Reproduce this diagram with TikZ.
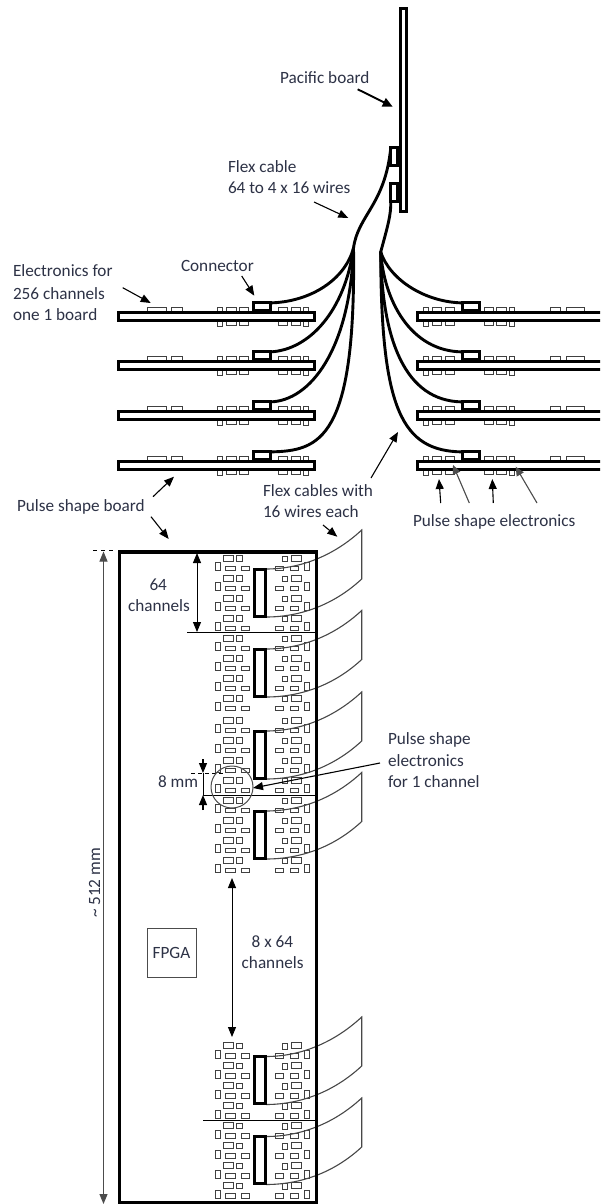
\documentclass[tikz,border=0pt]{standalone}
\usepackage{fontspec}
\setmainfont{Carlito}
\usetikzlibrary{arrows.meta,calc}
\definecolor{txt}{RGB}{45,50,70}
\tikzset{
 x=1pt,y=-1pt,
 lbl/.style={inner sep=0,outer sep=0,anchor=base west,text=txt,font=\fontsize{17.2}{17.2}\selectfont},
 chip/.style={draw=black!75,line width=0.9pt,fill=white},
 cell/.style={draw=black!75,line width=0.9pt,fill=white},
 pcb/.style={draw=black,line width=3pt,fill=white,minimum width=195.7pt,minimum height=7.7pt,inner sep=0,outer sep=0},
 plug/.style={draw=black,line width=3pt,fill=white,minimum width=17pt,minimum height=7.2pt,inner sep=0,outer sep=0},
 vplug/.style={draw=black,line width=3pt,fill=white,minimum width=10.4pt,minimum height=46.8pt,inner sep=0,outer sep=0},
 pplug/.style={draw=black,line width=3pt,fill=white,minimum width=7pt,minimum height=18.2pt,inner sep=0,outer sep=0},
 cable/.style={draw=black,line width=2.9pt,line cap=round},
 flap/.style={draw=black!72,line width=1.1pt},
 note/.style={draw=black,line width=1.1pt,-{Triangle[length=10pt,width=8pt]}},
 notet/.style={draw=black,line width=1.9pt,-{Triangle[length=10pt,width=9pt]}},
 notes/.style={draw=black!70,line width=1.1pt,-{Triangle[length=9pt,width=8pt]}},
 dbl/.style={draw=black,line width=1pt,{Triangle[length=10pt,width=8pt]}-{Triangle[length=10pt,width=8pt]}},
 rule/.style={draw=black,line width=0.9pt},
}
% annotation arrow between two named coordinates
\newcommand{\notearrow}[6][note]{%
 \coordinate (#2a) at (#3,#4); \coordinate (#2b) at (#5,#6);
 \draw[#1] (#2a) -- (#2b);}
\newcommand{\leftchips}[1]{%
 \begin{scope}[yshift=-#1pt]
 \foreach \a/\b in {147.3/166,171.7/182.3,217.3/222.7,226.7/236,239.3/248,278/287.3,291/300.3,303.7/308.7}
   \draw[chip] (\a,307.7) rectangle (\b,312);
 \foreach \a/\b in {226.7/236,239.3/248,278/287.3,291/300.3}
   \draw[chip] (\a,320) rectangle (\b,325);
 \foreach \a/\b in {217.3/222.7,303.7/308.7}
   \draw[chip] (\a,320) rectangle (\b,326);
 \end{scope}}
\newcommand{\rightchips}[1]{%
 \begin{scope}[yshift=-#1pt]
 \foreach \a/\b in {423.3/428.3,432.3/441.7,445/454.3,484.3/493.3,496.7/506,509.3/514.3,550/560.7,566.7/584}
   \draw[chip] (\a,307.7) rectangle (\b,312);
 \foreach \a/\b in {432.3/441.7,445/454.3,484.3/493.3,496.7/506}
   \draw[chip] (\a,320) rectangle (\b,325);
 \foreach \a/\b in {423.3/428.3,509.3/514.3}
   \draw[chip] (\a,320) rectangle (\b,326);
 \end{scope}}
\newcommand{\cellrow}[1]{%
 \begin{scope}[yshift=-#1pt]
 \draw[cell] (223.7,555.3) rectangle (233.2,561.3);
 \draw[cell] (236.4,555.6) rectangle (242.4,561.3);
 \draw[cell] (215,562.7) rectangle (220.2,570.8);
 \draw[cell] (225.7,566.2) rectangle (235,570.8);
 \draw[cell] (241.7,566.2) rectangle (249.8,570.8);
 \draw[cell] (282.5,556.2) rectangle (287.5,561.6);
 \draw[cell] (291.2,555.3) rectangle (301.5,561.3);
 \draw[cell] (304.2,562.7) rectangle (309.5,570.8);
 \draw[cell] (275.7,566.2) rectangle (283.5,570.8);
 \draw[cell] (290.2,566.2) rectangle (298.5,570.8);
 \end{scope}}
% module #1 = name, #2 = offset of the module, #3 = offset of the flap
\newcommand{\module}[3]{%
 \foreach \r in {0,20,40,60} {\pgfmathsetmacro{\rr}{#2+\r}\cellrow{\rr}}
 \coordinate (#1t) at (361.7,{530+#3});
 \coordinate (#1u) at (361.7,{579+#3});
 \coordinate (#1p) at (266,{569+#2});
 \coordinate (#1q) at (266,{617+#2});
 \draw[flap] (#1p) .. controls ($(#1p)+(34,0)$) and ($(#1t)+(-28,26)$) .. (#1t)
   -- (#1u) .. controls ($(#1u)+(-28,26)$) and ($(#1q)+(34,0)$) .. (#1q);
 \node[vplug] (#1) at (260,{592.6+#2}) {};}
\begin{document}
\begin{tikzpicture}
\useasboundingbox (0,0) rectangle (600,1204);
\fill[white] (0,0) rectangle (600,1204);

% Pacific board and its connectors
\node[draw=black,line width=3pt,fill=white,minimum width=6pt,minimum height=203pt,inner sep=0,outer sep=0] (pac) at (403.8,110) {};
\node[pplug] (pu) at (394.3,156.7) {};
\node[pplug] (pd) at (394.3,192.2) {};
\coordinate (jl) at (353.5,248);
\coordinate (jr) at (380.7,252);
\draw[cable] (jl) .. controls (358,215) and (385,205) .. (pu.north west);
\draw[cable] (jr) .. controls (388,225) and (391,215) .. (pd.south west);

% side-view boards
\foreach \o in {0,49,99,149} {\leftchips{\o}\rightchips{\o}}
\node[pcb] (L1) at (216.7,316.3) {};
\node[pcb] (L2) at (216.7,365.3) {};
\node[pcb] (L3) at (216.7,415.3) {};
\node[pcb] (L4) at (216.7,465.3) {};
\begin{scope}
\clip (0,0) rectangle (600,1204);
\foreach \n/\y in {R1/316.3,R2/365.3,R3/415.3,R4/465.3}
  \node[pcb,minimum width=210pt,anchor=west] (\n) at (417.5,\y) {};
\end{scope}
\foreach \n/\y in {a1/306.5,a2/355.5,a3/405.5,a4/455.5} {
  \node[plug] (l\n) at (261.7,\y) {};
  \node[plug] (r\n) at (470.5,\y) {};
}
\draw[cable] (jl) .. controls (345,280) and (310,302) .. (la1.north east);
\draw[cable] (jl) .. controls (345,310) and (310,350) .. (la2.north east);
\draw[cable] (jl) .. controls (350,350) and (310,401) .. (la3.north east);
\draw[cable] (jl) .. controls (356,440) and (320,451) .. (la4.north east);
\draw[cable] (jr) .. controls (390,280) and (425,302) .. (ra1.north west);
\draw[cable] (jr) .. controls (384,300) and (410,351) .. (ra2.north west);
\draw[cable] (jr) .. controls (382,340) and (405,401) .. (ra3.north west);
\draw[cable] (jr) .. controls (381,410) and (402,451) .. (ra4.north west);

% main board
\module{m1}{0}{0}
\module{m2}{80}{80.5}
\module{m3}{162}{162}
\module{m4}{242}{242.5}
\module{m5}{487.5}{487}
\module{m6}{567.5}{568}
\node[draw=black,line width=3.4pt,minimum width=197pt,minimum height=650.5pt,inner sep=0,outer sep=0] (main) at (218,877.25) {};

% dividers
\coordinate (d1) at (187,632.5); \coordinate (d2) at (203,795.5); \coordinate (d3) at (203,1120.5);
\draw[rule] (d1) -- (d1-|main.east);
\draw[rule] (d2) -- (d2-|main.east);
\draw[rule] (d3) -- (d3-|main.east);

% dimensions
\coordinate (ca) at (197,553); \coordinate (cb) at (197,632);
\draw[dbl] (ca) -- (cb);
\coordinate (ma) at (103.5,551.5); \coordinate (mb) at (103.5,1204);
\draw[dbl,draw=black!70] (ma) -- (mb);
\coordinate (ta) at (93,550.7); \coordinate (tb) at (114,550.7);
\draw[rule,dash pattern=on 4pt off 4pt] (ta) -- (tb);
\coordinate (na) at (232,878); \coordinate (nb) at (232,1037);
\draw[dbl] (na) -- (nb);
\coordinate (ea) at (203,759); \coordinate (eb) at (203,773); \coordinate (ec) at (203,795); \coordinate (ed) at (203,810);
\draw[note] (ea) -- (eb);
\draw[note] (ed) -- (ec);
\draw[rule] (eb) -- (ec);
\coordinate (el) at (191,773); \coordinate (er) at (223,773);
\draw[draw=black,line width=0.8pt,dash pattern=on 4pt off 3pt] (el) -- (er);
\node[draw=black!70,line width=1pt,circle,minimum size=42pt,inner sep=0,outer sep=0] (ring) at (232,787) {};
\notearrow{pe}{380}{763}{253}{788}

% FPGA
\node[draw=black!70,line width=0.9pt,minimum width=49pt,minimum height=49pt,inner sep=0,text=txt,font=\fontsize{17.2}{17.2}\selectfont] (fpga) at (171.5,952.5) {FPGA};

% annotation arrows
\notearrow[notet]{pb}{357.7}{89.3}{392.7}{106.7}
\notearrow{fc}{314}{202}{348.3}{218}
\notearrow{eab}{122.7}{287.7}{150.7}{303}
\notearrow{co}{241.7}{276}{254.3}{295.7}
\notearrow{sa}{153}{496.7}{174}{476.7}
\notearrow{sb}{151}{516.7}{168.7}{539}
\notearrow{fa}{371}{478}{398}{432}
\notearrow{fb}{323}{525}{337.3}{536.7}
\notearrow{pa}{440.7}{503}{439}{479}
\notearrow[notes]{pc}{469.3}{503}{453}{465}
\notearrow{pf}{493.3}{503}{492.3}{479}
\notearrow[notes]{pg}{537}{503}{515.7}{466.7}

% labels
\node[lbl] (t1) at (280,83.3) {Pacific board};
\node[lbl] (t2) at (228,172) {Flex cable};
\node[lbl] (t3) at (228,193.3) {64 to 4 x 16 wires};
\node[lbl] (t4) at (13,276.7) {Electronics for};
\node[lbl] (t5) at (13,299) {256 channels};
\node[lbl] (t6) at (13,320) {one 1 board};
\node[lbl] (t7) at (181,271.5) {Connector};
\node[lbl] (t8) at (17,511.5) {Pulse shape board};
\node[lbl] (t9) at (263,496) {Flex cables with};
\node[lbl] (t10) at (263,517.3) {16 wires each};
\node[lbl] (t11) at (413,526) {Pulse shape electronics};
\node[lbl] (t12) at (149.5,590.7) {64};
\node[lbl] (t13) at (128,611.7) {channels};
\node[lbl] (t14) at (158,787) {8 mm};
\node[lbl] (t15) at (388,744.5) {Pulse shape};
\node[lbl] (t16) at (388,766.5) {electronics};
\node[lbl] (t17) at (388,787.5) {for 1 channel};
\node[lbl] (t18) at (251.7,947.7) {8 x 64};
\node[lbl] (t19) at (241.7,968.3) {channels};
\node[lbl,rotate=90,anchor=base] (t20) at (100,883) {\textasciitilde{} 512 mm};
\end{tikzpicture}
\end{document}
